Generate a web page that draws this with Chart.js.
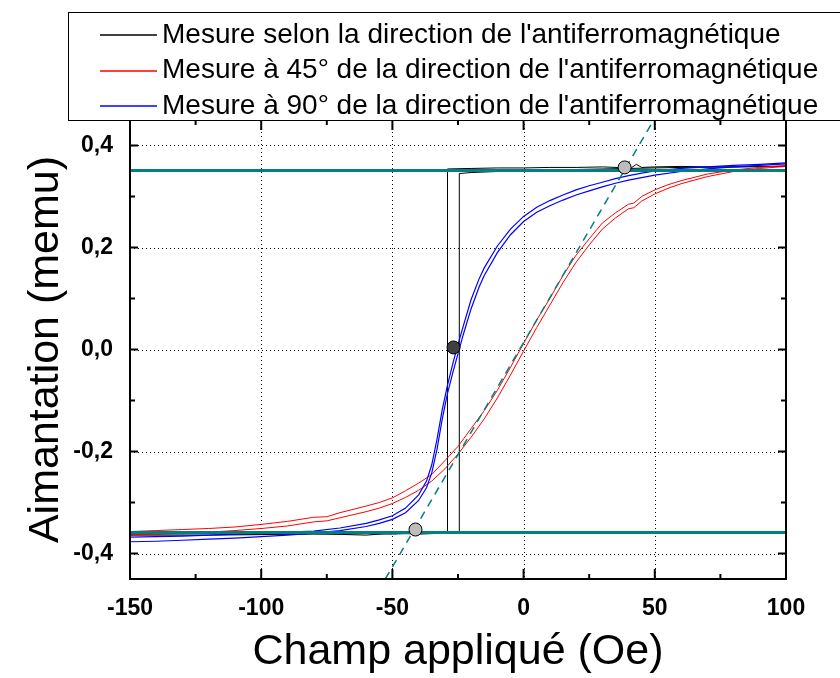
<!DOCTYPE html>
<html>
<head>
<meta charset="utf-8">
<script src="https://cdn.jsdelivr.net/npm/chart.js@4/dist/chart.umd.min.js"></script>
<style>
  body { margin: 0; background: #fff; }
  #wrap { width: 840px; height: 678px; }
</style>
</head>
<body>
<div id="wrap"><canvas id="loopChart" width="840" height="678"></canvas></div>
<script>
// axis ticks
var fieldTicks = [-150, -100, -50, 0, 50, 100];
var momentTicks = [-0.4, -0.2, 0.0, 0.2, 0.4];

// black: field along the antiferromagnetic direction (square loop)
var blackDownField = [100, 90, 80, 70, 60, 50, 45, 43, 41, 30, 20, 10, 0, -10, -20, -29, -29, -40, -50, -60, -80, -100, -120, -150];
var blackDownM = [0.359, 0.359, 0.358, 0.358, 0.359, 0.358, 0.357, 0.363, 0.356, 0.358, 0.357, 0.357, 0.356, 0.356, 0.355, 0.354, -0.357, -0.360, -0.362, -0.361, -0.362, -0.362, -0.361, -0.362];
var blackUpField = [-150, -120, -100, -80, -60, -50, -40, -30, -24.5, -24.5, -20, -10, 0, 20, 40, 60, 80, 100];
var blackUpM = [-0.364, -0.364, -0.363, -0.361, -0.364, -0.360, -0.362, -0.360, -0.359, 0.345, 0.347, 0.349, 0.352, 0.353, 0.355, 0.357, 0.358, 0.359];

// red: 45 degrees
var redField = [-150, -140, -130, -120, -110, -100, -90, -80, -75, -70, -60, -55, -50, -45, -40, -35, -30, -25, -20, -15, -10, -5, 0, 5, 10, 15, 20, 25, 30, 35, 40, 42, 45, 50, 55, 60, 70, 80, 90, 100];
var redDownM = [-0.357, -0.355, -0.353, -0.351, -0.348, -0.343, -0.337, -0.329, -0.328, -0.320, -0.307, -0.300, -0.291, -0.277, -0.262, -0.245, -0.218, -0.190, -0.155, -0.120, -0.080, -0.035, 0.012, 0.058, 0.100, 0.145, 0.185, 0.217, 0.248, 0.268, 0.285, 0.287, 0.300, 0.313, 0.323, 0.331, 0.344, 0.352, 0.357, 0.361];
var redUpM = [-0.364, -0.362, -0.360, -0.358, -0.355, -0.351, -0.346, -0.338, -0.336, -0.330, -0.318, -0.311, -0.302, -0.290, -0.276, -0.258, -0.234, -0.205, -0.172, -0.136, -0.095, -0.050, -0.003, 0.043, 0.087, 0.131, 0.171, 0.205, 0.236, 0.258, 0.276, 0.278, 0.291, 0.305, 0.316, 0.325, 0.339, 0.349, 0.355, 0.359];

// blue: 90 degrees
var blueField = [-150, -140, -130, -120, -110, -100, -90, -80, -70, -60, -55, -50, -45, -40, -37, -35, -33, -31, -29, -27, -25, -23, -20, -17, -15, -10, -5, 0, 5, 10, 15, 20, 25, 30, 35, 40, 45, 50, 60, 70, 80, 90, 100];
var blueDownM = [-0.368, -0.367, -0.366, -0.364, -0.362, -0.360, -0.358, -0.356, -0.350, -0.341, -0.334, -0.326, -0.311, -0.285, -0.258, -0.226, -0.176, -0.118, -0.070, -0.028, 0.010, 0.046, 0.098, 0.138, 0.160, 0.203, 0.236, 0.261, 0.279, 0.292, 0.303, 0.313, 0.321, 0.328, 0.335, 0.341, 0.346, 0.350, 0.355, 0.358, 0.361, 0.363, 0.366];
var blueUpM = [-0.377, -0.376, -0.374, -0.372, -0.370, -0.367, -0.364, -0.360, -0.355, -0.347, -0.341, -0.333, -0.320, -0.296, -0.271, -0.242, -0.196, -0.136, -0.086, -0.046, -0.008, 0.029, 0.080, 0.122, 0.145, 0.190, 0.225, 0.251, 0.269, 0.282, 0.293, 0.303, 0.311, 0.319, 0.326, 0.332, 0.337, 0.342, 0.349, 0.354, 0.358, 0.361, 0.364];

// saturation levels and tangent
var satField = [-150, 100];
var satTop = [0.351, 0.351];
var satBottom = [-0.359, -0.359];
var tangentField = [-52.7, 49.6];
var tangentM = [-0.45, 0.45];

// marked points
var kneeField = [38.5, -41.2];
var kneeM = [0.357, -0.353];
var coerciveField = [-26.7];
var coerciveM = [0.004];

var legendLabels = [
    "Mesure selon la direction de l'antiferromagnétique",
    "Mesure à 45° de la direction de l'antiferromagnétique",
    "Mesure à 90° de la direction de l'antiferromagnétique"
];

function pts(xs, ys) {
    return xs.map(function (x, i) { return { x: x, y: ys[i] }; });
}

function lineSet(label, xs, ys, color, width, order) {
    return {
        label: label,
        data: pts(xs, ys),
        showLine: true,
        borderColor: color,
        borderWidth: width,
        pointRadius: 0,
        tension: 0,
        order: order
    };
}

var datasets = [
    lineSet(legendLabels[0], blackDownField, blackDownM, "#000000", 1, 9),
    lineSet("", blackUpField, blackUpM, "#000000", 1, 9),
    lineSet(legendLabels[1], redField, redDownM, "#ff0000", 1, 8),
    lineSet("", redField, redUpM, "#ff0000", 1, 8),
    lineSet(legendLabels[2], blueField, blueDownM, "#0000ff", 1.2, 7),
    lineSet("", blueField, blueUpM, "#0000ff", 1.2, 7),
    lineSet("", satField, satTop, "#008080", 3, 5),
    lineSet("", satField, satBottom, "#008080", 3, 5),
    Object.assign(lineSet("", tangentField, tangentM, "#008080", 1.5, 4), { borderDash: [8, 6] }),
    {
        label: "", data: pts(kneeField, kneeM), showLine: false,
        pointRadius: 6.5, pointBackgroundColor: "#bdbdbd", pointBorderColor: "#000", pointBorderWidth: 1, order: 1
    },
    {
        label: "", data: pts(coerciveField, coerciveM), showLine: false,
        pointRadius: 6.5, pointBackgroundColor: "#404040", pointBorderColor: "#000", pointBorderWidth: 1, order: 1
    }
];

// grid, inward ticks and frame
var framePlugin = {
    id: "frame",
    beforeDatasetsDraw: function (chart) {
        var ctx = chart.ctx, a = chart.chartArea;
        var xs = chart.scales.x, ys = chart.scales.y;
        ctx.save();
        ctx.strokeStyle = "#000";
        ctx.lineWidth = 1;
        ctx.setLineDash([1, 3]);
        fieldTicks.forEach(function (v) {
            var px = Math.round(xs.getPixelForValue(v)) + 0.5;
            if (px < a.left + 3 || px > a.right - 3) return;
            ctx.beginPath(); ctx.moveTo(px, a.top); ctx.lineTo(px, a.bottom); ctx.stroke();
        });
        momentTicks.forEach(function (v) {
            var py = Math.round(ys.getPixelForValue(v)) + 0.5;
            ctx.beginPath(); ctx.moveTo(a.left, py); ctx.lineTo(a.right, py); ctx.stroke();
        });
        ctx.restore();
    },
    afterDatasetsDraw: function (chart) {
        var ctx = chart.ctx, a = chart.chartArea;
        var xs = chart.scales.x, ys = chart.scales.y;
        ctx.save();
        ctx.strokeStyle = "#000";
        ctx.lineWidth = 2;
        for (var v = -150; v <= 100; v += 25) {
            var px = xs.getPixelForValue(v);
            var len = (v % 50 === 0) ? 10 : 5;
            ctx.beginPath();
            ctx.moveTo(px, a.bottom); ctx.lineTo(px, a.bottom - len);
            ctx.moveTo(px, a.top); ctx.lineTo(px, a.top + len);
            ctx.stroke();
        }
        for (var k = -4; k <= 4; k++) {
            var py = ys.getPixelForValue(k / 10);
            var l2 = (k % 2 === 0) ? 8 : 5;
            ctx.beginPath();
            ctx.moveTo(a.left, py); ctx.lineTo(a.left + l2, py);
            ctx.moveTo(a.right, py); ctx.lineTo(a.right - l2, py);
            ctx.stroke();
        }
        ctx.strokeRect(a.left, a.top, a.right - a.left, a.bottom - a.top);
        ctx.restore();
    }
};

// boxed legend laid over the top of the plot
var legendPlugin = {
    id: "boxLegend",
    afterDraw: function (chart) {
        var ctx = chart.ctx;
        var rows = [0, 2, 4];
        ctx.save();
        ctx.fillStyle = "#fff";
        ctx.fillRect(68, 12, 790, 109);
        ctx.strokeStyle = "#000";
        ctx.lineWidth = 1;
        ctx.strokeRect(68.5, 12.5, 790, 108);
        ctx.font = "28px 'Liberation Sans', Arial, sans-serif";
        ctx.textBaseline = "middle";
        rows.forEach(function (di, i) {
            var y = 35 + i * 35.5;
            var ds = chart.data.datasets[di];
            ctx.strokeStyle = ds.borderColor;
            ctx.lineWidth = 1.5;
            ctx.beginPath(); ctx.moveTo(100, Math.round(y)); ctx.lineTo(157, Math.round(y)); ctx.stroke();
            ctx.fillStyle = "#000";
            ctx.fillText(ds.label, 162, y);
        });
        ctx.restore();
    }
};

var ctx = document.getElementById("loopChart").getContext("2d");
var loopChart = new Chart(ctx, {
    type: "scatter",
    data: { datasets: datasets },
    options: {
        responsive: false,
        animation: false,
        layout: { padding: { left: 0, right: 54, top: 120, bottom: 0 } },
        plugins: { legend: { display: false }, tooltip: { enabled: false } },
        scales: {
            x: {
                type: "linear", min: -150, max: 100,
                afterBuildTicks: function (s) { s.ticks = fieldTicks.map(function (v) { return { value: v }; }); },
                afterFit: function (s) { s.height = 99; },
                grid: { display: false, drawTicks: false },
                border: { display: false },
                ticks: {
                    color: "#000", padding: 16,
                    font: { family: "'Liberation Sans', Arial, sans-serif", size: 23, weight: "bold" },
                    maxRotation: 0
                },
                title: {
                    display: true, text: "Champ appliqué (Oe)", color: "#000",
                    font: { family: "'Liberation Sans', Arial, sans-serif", size: 43 },
                    padding: { top: 0, bottom: 0 }
                }
            },
            y: {
                type: "linear", min: -0.45, max: 0.45,
                afterBuildTicks: function (s) { s.ticks = momentTicks.map(function (v) { return { value: v }; }); },
                afterFit: function (s) { s.width = 130; },
                grid: { display: false, drawTicks: false },
                border: { display: false },
                ticks: {
                    color: "#000", padding: 17,
                    font: { family: "'Liberation Sans', Arial, sans-serif", size: 23, weight: "bold" },
                    callback: function (v) { return v.toFixed(1).replace(".", ","); }
                },
                title: {
                    display: true, text: "Aimantation (memu)", color: "#000",
                    font: { family: "'Liberation Sans', Arial, sans-serif", size: 43 },
                    padding: { top: 20, bottom: 0 }
                }
            }
        }
    },
    plugins: [framePlugin, legendPlugin]
});
</script>
</body>
</html>
